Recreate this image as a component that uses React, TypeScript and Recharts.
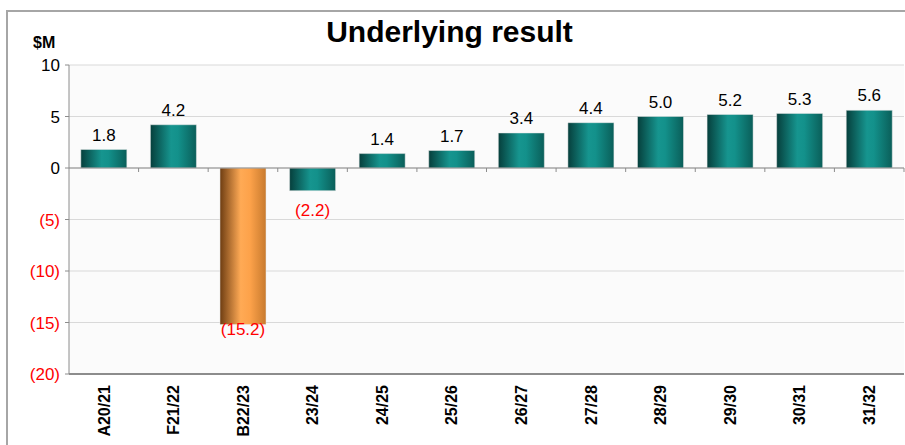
import React from "react";
import {
  BarChart,
  Bar,
  XAxis,
  YAxis,
  CartesianGrid,
  ReferenceLine,
  Cell,
  LabelList,
} from "recharts";

const years = [
  "A20/21",
  "F21/22",
  "B22/23",
  "23/24",
  "24/25",
  "25/26",
  "26/27",
  "27/28",
  "28/29",
  "29/30",
  "30/31",
  "31/32",
];
const result = [1.8, 4.2, -15.2, -2.2, 1.4, 1.7, 3.4, 4.4, 5.0, 5.2, 5.3, 5.6];
const highlighted = ["B22/23"];
const yTicks = [10, 5, 0, -5, -10, -15, -20];

const FONT = "'Liberation Sans', Arial, sans-serif";

const data = years.map((year, i) => ({ year, value: result[i] }));

const fmt = (v: number) =>
  v < 0 ? `(${Math.abs(v).toFixed(1)})` : v.toFixed(1);

function YTick(props: any) {
  const { x, y, payload } = props;
  const v = payload.value as number;
  return (
    <text
      x={x - 3}
      y={y}
      dy="0.36em"
      textAnchor="end"
      fontSize={17}
      fontFamily={FONT}
      fill={v < 0 ? "#ff0000" : "#000000"}
    >
      {v < 0 ? `(${Math.abs(v)})` : v}
    </text>
  );
}

function XTick(props: any) {
  const { x, y, payload } = props;
  return (
    <g transform={`translate(${x},${y + 3}) rotate(-90)`}>
      <text
        x={0}
        y={0}
        dy="0.36em"
        textAnchor="end"
        fontSize={16}
        fontWeight="bold"
        fontFamily={FONT}
        fill="#000"
      >
        {payload.value}
      </text>
    </g>
  );
}

function ValueLabel(props: any) {
  const { x, y, width, height, value } = props;
  const top = Math.min(y, y + height);
  const bottom = Math.max(y, y + height);
  const cx = x + width / 2;
  let ty = top - 15;
  if (value < 0) {
    // long bar: excel puts the label on the bar end
    ty = bottom - top > 100 ? bottom + 4 : bottom + 19;
  }
  return (
    <text
      x={cx}
      y={ty}
      dy="0.36em"
      textAnchor="middle"
      fontSize={17}
      fontFamily={FONT}
      fill={value < 0 ? "#ff0000" : "#000000"}
    >
      {fmt(value)}
    </text>
  );
}

function ZeroAxis(props: any) {
  const { x1, y1, x2 } = props;
  const n = years.length;
  const step = (x2 - x1) / n;
  return (
    <g>
      <line x1={x1} y1={y1} x2={x2} y2={y1} stroke="#8c8c8c" strokeWidth={1} />
      {years.map((_, i) => (
        <line
          key={i}
          x1={x1 + (i + 1) * step}
          x2={x1 + (i + 1) * step}
          y1={y1}
          y2={y1 + 4}
          stroke="#8c8c8c"
          strokeWidth={1}
        />
      ))}
    </g>
  );
}

export default function App() {
  return (
    <div
      style={{
        position: "absolute",
        left: 0,
        top: 0,
        width: 905,
        height: 445,
        background: "#fff",
        overflow: "hidden",
        fontFamily: FONT,
      }}
    >
      <div
        style={{
          position: "absolute",
          left: 6,
          top: 10,
          width: 910,
          height: 450,
          border: "2px solid #a6a6a6",
          boxSizing: "border-box",
        }}
      />
      <div
        style={{
          position: "absolute",
          left: -3,
          width: 905,
          top: 15,
          textAlign: "center",
          fontSize: 30,
          lineHeight: "34px",
          fontWeight: "bold",
        }}
      >
        Underlying result
      </div>
      <div
        style={{
          position: "absolute",
          left: 33,
          top: 34,
          fontSize: 16,
          lineHeight: "18px",
          fontWeight: "bold",
        }}
      >
        $M
      </div>
      <div style={{ position: "absolute", left: 0, top: 0 }}>
        <BarChart
          width={905}
          height={445}
          data={data}
          margin={{ top: 65, right: 1, bottom: 0, left: 0 }}
          barCategoryGap="17%"
        >
          <defs>
            <linearGradient id="teal" x1="0" y1="0" x2="1" y2="0">
              <stop offset="0%" stopColor="#063f3c" />
              <stop offset="45%" stopColor="#16958f" />
              <stop offset="60%" stopColor="#13918b" />
              <stop offset="100%" stopColor="#0a5e59" />
            </linearGradient>
            <linearGradient id="orange" x1="0" y1="0" x2="1" y2="0">
              <stop offset="0%" stopColor="#6e3d12" />
              <stop offset="45%" stopColor="#ffaa55" />
              <stop offset="65%" stopColor="#fda24a" />
              <stop offset="100%" stopColor="#c87a2e" />
            </linearGradient>
          </defs>
          <CartesianGrid
            vertical={false}
            stroke="#d9d9d9"
            fill="#fbfbfb"
          />
          <XAxis
            dataKey="year"
            height={71}
            interval={0}
            tickLine={false}
            axisLine={{ stroke: "#8c8c8c", strokeWidth: 2 }}
            tick={<XTick />}
          />
          <YAxis
            width={69}
            domain={[-20, 10]}
            ticks={yTicks}
            interval={0}
            axisLine={{ stroke: "#8c8c8c" }}
            tickLine={{ stroke: "#8c8c8c" }}
            tickSize={4}
            tick={<YTick />}
          />
          <ReferenceLine y={0} shape={<ZeroAxis />} />
          <Bar dataKey="value" isAnimationActive={false}>
            {data.map((d) => (
              <Cell
                key={d.year}
                fill={highlighted.includes(d.year) ? "url(#orange)" : "url(#teal)"}
                stroke="#e8e8e8"
                strokeWidth={0.5}
              />
            ))}
            <LabelList dataKey="value" content={<ValueLabel />} />
          </Bar>
        </BarChart>
      </div>
    </div>
  );
}
